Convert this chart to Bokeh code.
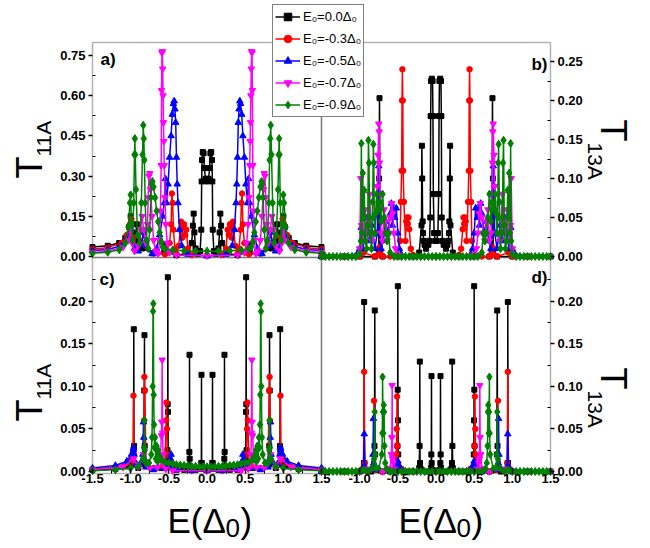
import math
from bokeh.plotting import figure
from bokeh.models import (Range1d, LinearAxis, FixedTicker, NumeralTickFormatter,
                          BoxAnnotation, Label, Legend, LegendItem)
from bokeh.embed import file_html
from bokeh.resources import INLINE

# ---------------- data ----------------
SERIES_LABELS = ["E₀=0.0Δ₀", "E₀=-0.3Δ₀", "E₀=-0.5Δ₀", "E₀=-0.7Δ₀", "E₀=-0.9Δ₀"]

# Panel a) T11A
a_black_E = [-1.5, -1.3, -1.15, -1.07, -1.02, -1.0, -0.98, -0.95, -0.92, -0.9, -0.85, -0.7, -0.56, -0.54, -0.52, -0.4, -0.25, -0.2, -0.185, -0.175, -0.165, -0.15, -0.12, -0.09, -0.075, -0.07, -0.065, -0.055, -0.045, -0.035, -0.02, 0.0, 0.02, 0.035, 0.045, 0.055, 0.065, 0.07, 0.075, 0.09, 0.12, 0.15, 0.165, 0.175, 0.185, 0.2, 0.25, 0.4, 0.52, 0.54, 0.56, 0.7, 0.85, 0.9, 0.92, 0.95, 0.98, 1.0, 1.02, 1.07, 1.15, 1.3, 1.5]
a_black_T = [0.035, 0.04, 0.05, 0.07, 0.11, 0.15, 0.09, 0.05, 0.12, 0.06, 0.03, 0.012, 0.015, 0.045, 0.015, 0.005, 0.012, 0.05, 0.115, 0.16, 0.09, 0.03, 0.01, 0.02, 0.1, 0.28, 0.36, 0.39, 0.385, 0.33, 0.29, 0.28, 0.29, 0.33, 0.385, 0.39, 0.36, 0.28, 0.1, 0.02, 0.01, 0.03, 0.09, 0.16, 0.115, 0.05, 0.012, 0.005, 0.015, 0.045, 0.015, 0.012, 0.03, 0.06, 0.12, 0.05, 0.09, 0.15, 0.11, 0.07, 0.05, 0.04, 0.035]
a_red_E = [-1.5, -1.3, -1.12, -1.05, -1.01, -0.99, -0.97, -0.93, -0.86, -0.83, -0.8, -0.7, -0.55, -0.49, -0.47, -0.46, -0.45, -0.44, -0.42, -0.4, -0.37, -0.35, -0.34, -0.325, -0.31, -0.3, -0.285, -0.27, -0.25, -0.2, 0.0, 0.2, 0.25, 0.27, 0.285, 0.3, 0.31, 0.325, 0.34, 0.35, 0.37, 0.4, 0.42, 0.44, 0.45, 0.46, 0.47, 0.49, 0.55, 0.7, 0.8, 0.83, 0.86, 0.93, 0.97, 0.99, 1.01, 1.05, 1.12, 1.3, 1.5]
a_red_T = [0.028, 0.033, 0.05, 0.08, 0.12, 0.14, 0.07, 0.035, 0.05, 0.1, 0.04, 0.012, 0.008, 0.05, 0.12, 0.235, 0.2, 0.1, 0.03, 0.01, 0.04, 0.1, 0.13, 0.07, 0.11, 0.12, 0.08, 0.1, 0.03, 0.006, 0.003, 0.006, 0.03, 0.1, 0.08, 0.12, 0.11, 0.07, 0.13, 0.1, 0.04, 0.01, 0.03, 0.1, 0.2, 0.235, 0.12, 0.05, 0.008, 0.012, 0.04, 0.1, 0.05, 0.035, 0.07, 0.14, 0.12, 0.08, 0.05, 0.033, 0.028]
a_blue_E = [-1.5, -1.3, -1.12, -1.04, -1.0, -0.98, -0.95, -0.9, -0.85, -0.83, -0.8, -0.72, -0.66, -0.62, -0.58, -0.56, -0.545, -0.53, -0.51, -0.49, -0.47, -0.455, -0.44, -0.43, -0.42, -0.41, -0.4, -0.39, -0.38, -0.36, -0.33, -0.25, 0.0, 0.25, 0.33, 0.36, 0.38, 0.39, 0.4, 0.41, 0.42, 0.43, 0.44, 0.455, 0.47, 0.49, 0.51, 0.53, 0.545, 0.56, 0.58, 0.62, 0.66, 0.72, 0.8, 0.83, 0.85, 0.9, 0.95, 0.98, 1.0, 1.04, 1.12, 1.3, 1.5]
a_blue_T = [0.022, 0.026, 0.04, 0.07, 0.1, 0.06, 0.03, 0.02, 0.05, 0.09, 0.04, 0.01, 0.03, 0.08, 0.15, 0.2, 0.29, 0.2, 0.27, 0.37, 0.45, 0.53, 0.57, 0.58, 0.55, 0.5, 0.37, 0.27, 0.2, 0.1, 0.04, 0.008, 0.002, 0.008, 0.04, 0.1, 0.2, 0.27, 0.37, 0.5, 0.55, 0.58, 0.57, 0.53, 0.45, 0.37, 0.27, 0.2, 0.29, 0.2, 0.15, 0.08, 0.03, 0.01, 0.04, 0.09, 0.05, 0.02, 0.03, 0.06, 0.1, 0.07, 0.04, 0.026, 0.022]
a_magenta_E = [-1.5, -1.3, -1.1, -1.03, -1.0, -0.98, -0.95, -0.9, -0.87, -0.85, -0.83, -0.8, -0.78, -0.77, -0.76, -0.75, -0.74, -0.72, -0.7, -0.67, -0.64, -0.62, -0.61, -0.6, -0.595, -0.59, -0.585, -0.58, -0.575, -0.57, -0.565, -0.56, -0.55, -0.54, -0.52, -0.49, -0.4, 0.0, 0.4, 0.49, 0.52, 0.54, 0.55, 0.56, 0.565, 0.57, 0.575, 0.58, 0.585, 0.59, 0.595, 0.6, 0.61, 0.62, 0.64, 0.67, 0.7, 0.72, 0.74, 0.75, 0.76, 0.77, 0.78, 0.8, 0.83, 0.85, 0.87, 0.9, 0.95, 0.98, 1.0, 1.03, 1.1, 1.3, 1.5]
a_magenta_T = [0.015, 0.02, 0.035, 0.06, 0.1, 0.05, 0.02, 0.04, 0.1, 0.15, 0.1, 0.05, 0.12, 0.22, 0.3, 0.31, 0.25, 0.15, 0.06, 0.02, 0.01, 0.06, 0.17, 0.34, 0.62, 0.76, 0.765, 0.7, 0.6, 0.5, 0.43, 0.34, 0.22, 0.12, 0.05, 0.015, 0.005, 0.003, 0.005, 0.015, 0.05, 0.12, 0.22, 0.34, 0.43, 0.5, 0.6, 0.7, 0.765, 0.76, 0.62, 0.34, 0.17, 0.06, 0.01, 0.02, 0.06, 0.15, 0.25, 0.31, 0.3, 0.22, 0.12, 0.05, 0.1, 0.15, 0.1, 0.04, 0.02, 0.05, 0.1, 0.06, 0.035, 0.02, 0.015]
a_green_E = [-1.5, -1.3, -1.15, -1.07, -1.03, -1.01, -1.0, -0.99, -0.975, -0.96, -0.95, -0.945, -0.94, -0.93, -0.91, -0.88, -0.86, -0.845, -0.835, -0.828, -0.82, -0.81, -0.79, -0.77, -0.75, -0.735, -0.725, -0.715, -0.7, -0.68, -0.66, -0.64, -0.62, -0.6, -0.58, -0.55, -0.45, -0.3, -0.15, 0.0, 0.15, 0.3, 0.45, 0.55, 0.58, 0.6, 0.62, 0.64, 0.66, 0.68, 0.7, 0.715, 0.725, 0.735, 0.75, 0.77, 0.79, 0.81, 0.82, 0.828, 0.835, 0.845, 0.86, 0.88, 0.91, 0.93, 0.94, 0.945, 0.95, 0.96, 0.975, 0.99, 1.0, 1.01, 1.03, 1.07, 1.15, 1.3, 1.5]
a_green_T = [0.012, 0.016, 0.025, 0.05, 0.11, 0.2, 0.23, 0.12, 0.06, 0.2, 0.38, 0.44, 0.38, 0.25, 0.08, 0.05, 0.2, 0.38, 0.49, 0.44, 0.36, 0.2, 0.06, 0.03, 0.1, 0.22, 0.27, 0.28, 0.26, 0.22, 0.17, 0.13, 0.09, 0.055, 0.035, 0.028, 0.024, 0.021, 0.02, 0.02, 0.02, 0.021, 0.024, 0.028, 0.035, 0.055, 0.09, 0.13, 0.17, 0.22, 0.26, 0.28, 0.27, 0.22, 0.1, 0.03, 0.06, 0.2, 0.36, 0.44, 0.49, 0.38, 0.2, 0.05, 0.08, 0.25, 0.38, 0.44, 0.38, 0.2, 0.06, 0.12, 0.23, 0.2, 0.11, 0.05, 0.025, 0.016, 0.012]

# Panel b) T13A
b_black_E = [-1.5, -1.2, -1.0, -0.8, -0.75, -0.745, -0.74, -0.735, -0.73, -0.7, -0.5, -0.3, -0.22, -0.19, -0.185, -0.18, -0.175, -0.17, -0.16, -0.15, -0.13, -0.1, -0.085, -0.075, -0.07, -0.065, -0.055, -0.045, -0.04, -0.035, -0.025, -0.01, 0.0, 0.01, 0.025, 0.035, 0.04, 0.045, 0.055, 0.065, 0.07, 0.075, 0.085, 0.1, 0.13, 0.15, 0.16, 0.17, 0.175, 0.18, 0.185, 0.19, 0.22, 0.3, 0.5, 0.7, 0.73, 0.735, 0.74, 0.745, 0.75, 0.8, 1.0, 1.2, 1.5]
b_black_T = [0.0, 0.0, 0.0, 0.0, 0.005, 0.1, 0.203, 0.08, 0.005, 0.0, 0.0, 0.0, 0.005, 0.04, 0.142, 0.1, 0.045, 0.03, 0.02, 0.015, 0.01, 0.015, 0.02, 0.05, 0.18, 0.225, 0.228, 0.225, 0.18, 0.08, 0.03, 0.02, 0.02, 0.02, 0.03, 0.08, 0.18, 0.225, 0.228, 0.225, 0.18, 0.05, 0.02, 0.015, 0.01, 0.015, 0.02, 0.03, 0.045, 0.1, 0.142, 0.04, 0.005, 0.0, 0.0, 0.0, 0.005, 0.08, 0.203, 0.1, 0.005, 0.0, 0.0, 0.0, 0.0]
b_red_E = [-1.5, -1.2, -1.0, -0.95, -0.8, -0.75, -0.74, -0.73, -0.7, -0.6, -0.5, -0.47, -0.46, -0.45, -0.445, -0.44, -0.435, -0.43, -0.42, -0.4, -0.39, -0.38, -0.37, -0.36, -0.35, -0.33, -0.3, -0.2, 0.0, 0.2, 0.3, 0.33, 0.35, 0.36, 0.37, 0.38, 0.39, 0.4, 0.42, 0.43, 0.435, 0.44, 0.445, 0.45, 0.46, 0.47, 0.5, 0.6, 0.7, 0.73, 0.74, 0.75, 0.8, 0.95, 1.0, 1.2, 1.5]
b_red_T = [0.0, 0.0, 0.0, 0.005, 0.0, 0.003, 0.012, 0.003, 0.0, 0.0, 0.002, 0.02, 0.07, 0.11, 0.2, 0.24, 0.2, 0.11, 0.07, 0.02, 0.045, 0.05, 0.042, 0.05, 0.035, 0.01, 0.002, 0.0, 0.0, 0.0, 0.002, 0.01, 0.035, 0.05, 0.042, 0.05, 0.045, 0.02, 0.07, 0.11, 0.2, 0.24, 0.2, 0.11, 0.07, 0.02, 0.002, 0.0, 0.0, 0.003, 0.012, 0.003, 0.0, 0.005, 0.0, 0.0, 0.0]
b_blue_E = [-1.5, -1.1, -1.0, -0.98, -0.96, -0.93, -0.9, -0.87, -0.84, -0.8, -0.77, -0.755, -0.75, -0.745, -0.735, -0.72, -0.69, -0.66, -0.63, -0.6, -0.585, -0.57, -0.555, -0.54, -0.52, -0.5, -0.48, -0.45, -0.3, 0.0, 0.3, 0.45, 0.48, 0.5, 0.52, 0.54, 0.555, 0.57, 0.585, 0.6, 0.63, 0.66, 0.69, 0.72, 0.735, 0.745, 0.75, 0.755, 0.77, 0.8, 0.84, 0.87, 0.9, 0.93, 0.96, 0.98, 1.0, 1.1, 1.5]
b_blue_T = [0.0, 0.0, 0.01, 0.037, 0.01, 0.03, 0.05, 0.02, 0.04, 0.01, 0.03, 0.08, 0.116, 0.08, 0.03, 0.01, 0.02, 0.045, 0.03, 0.055, 0.068, 0.04, 0.06, 0.05, 0.062, 0.03, 0.01, 0.002, 0.0, 0.0, 0.0, 0.002, 0.01, 0.03, 0.062, 0.05, 0.06, 0.04, 0.068, 0.055, 0.03, 0.045, 0.02, 0.01, 0.03, 0.08, 0.116, 0.08, 0.03, 0.01, 0.04, 0.02, 0.05, 0.03, 0.01, 0.037, 0.01, 0.0, 0.0]
b_magenta_E = [-1.5, -1.05, -1.0, -0.985, -0.975, -0.96, -0.93, -0.9, -0.87, -0.84, -0.8, -0.77, -0.76, -0.75, -0.745, -0.74, -0.73, -0.72, -0.7, -0.68, -0.66, -0.64, -0.62, -0.6, -0.58, -0.565, -0.55, -0.53, -0.5, -0.45, 0.0, 0.45, 0.5, 0.53, 0.55, 0.565, 0.58, 0.6, 0.62, 0.64, 0.66, 0.68, 0.7, 0.72, 0.73, 0.74, 0.745, 0.75, 0.76, 0.77, 0.8, 0.84, 0.87, 0.9, 0.93, 0.96, 0.975, 0.985, 1.0, 1.05, 1.5]
b_magenta_T = [0.0, 0.0, 0.01, 0.1, 0.04, 0.02, 0.06, 0.03, 0.08, 0.02, 0.03, 0.09, 0.13, 0.17, 0.16, 0.12, 0.07, 0.03, 0.02, 0.06, 0.045, 0.02, 0.03, 0.05, 0.068, 0.055, 0.03, 0.01, 0.002, 0.0, 0.0, 0.0, 0.002, 0.01, 0.03, 0.055, 0.068, 0.05, 0.03, 0.02, 0.045, 0.06, 0.02, 0.03, 0.07, 0.12, 0.16, 0.17, 0.13, 0.09, 0.03, 0.02, 0.08, 0.03, 0.06, 0.02, 0.04, 0.1, 0.01, 0.0, 0.0]
b_green_E = [-1.5, -1.45, -1.4, -1.35, -1.3, -1.25, -1.2, -1.15, -1.1, -1.05, -1.0, -0.985, -0.978, -0.97, -0.96, -0.95, -0.94, -0.925, -0.91, -0.895, -0.885, -0.878, -0.87, -0.86, -0.845, -0.83, -0.82, -0.815, -0.808, -0.8, -0.79, -0.775, -0.76, -0.74, -0.72, -0.7, -0.68, -0.66, -0.64, -0.62, -0.6, -0.55, -0.5, -0.45, -0.4, -0.35, -0.3, -0.25, -0.2, -0.15, -0.1, -0.05, 0.0, 0.05, 0.1, 0.15, 0.2, 0.25, 0.3, 0.35, 0.4, 0.45, 0.5, 0.55, 0.6, 0.62, 0.64, 0.66, 0.68, 0.7, 0.72, 0.74, 0.76, 0.775, 0.79, 0.8, 0.808, 0.815, 0.82, 0.83, 0.845, 0.86, 0.87, 0.878, 0.885, 0.895, 0.91, 0.925, 0.94, 0.95, 0.96, 0.97, 0.978, 0.985, 1.0, 1.05, 1.1, 1.15, 1.2, 1.25, 1.3, 1.35, 1.4, 1.45, 1.5]
b_green_T = [0.0, 0.0, 0.0, 0.0, 0.0, 0.0, 0.0, 0.0, 0.0, 0.0, 0.003, 0.02, 0.145, 0.03, 0.107, 0.05, 0.085, 0.02, 0.01, 0.04, 0.149, 0.12, 0.05, 0.03, 0.01, 0.07, 0.144, 0.12, 0.05, 0.03, 0.055, 0.08, 0.06, 0.07, 0.045, 0.08, 0.05, 0.03, 0.02, 0.03, 0.005, 0.0, 0.0, 0.0, 0.0, 0.0, 0.0, 0.0, 0.0, 0.0, 0.0, 0.0, 0.0, 0.0, 0.0, 0.0, 0.0, 0.0, 0.0, 0.0, 0.0, 0.0, 0.0, 0.0, 0.005, 0.03, 0.02, 0.03, 0.05, 0.08, 0.045, 0.07, 0.06, 0.08, 0.055, 0.03, 0.05, 0.12, 0.144, 0.07, 0.01, 0.03, 0.05, 0.12, 0.149, 0.04, 0.01, 0.02, 0.085, 0.05, 0.107, 0.03, 0.145, 0.02, 0.003, 0.0, 0.0, 0.0, 0.0, 0.0, 0.0, 0.0, 0.0, 0.0, 0.0]

# Panel c) T11A
c_black_E = [-1.5, -1.2, -1.05, -0.97, -0.962, -0.959, -0.956, -0.95, -0.9, -0.83, -0.822, -0.819, -0.816, -0.81, -0.7, -0.6, -0.53, -0.518, -0.515, -0.513, -0.511, -0.508, -0.5, -0.4, -0.3, -0.235, -0.231, -0.229, -0.227, -0.22, -0.15, -0.08, -0.074, -0.072, -0.07, -0.06, 0.0, 0.06, 0.07, 0.072, 0.074, 0.08, 0.15, 0.22, 0.227, 0.229, 0.231, 0.235, 0.3, 0.4, 0.5, 0.508, 0.511, 0.513, 0.515, 0.518, 0.53, 0.6, 0.7, 0.81, 0.816, 0.819, 0.822, 0.83, 0.9, 0.95, 0.956, 0.959, 0.962, 0.97, 1.05, 1.2, 1.5]
c_black_T = [0.002, 0.003, 0.006, 0.01, 0.026, 0.167, 0.03, 0.01, 0.004, 0.01, 0.095, 0.16, 0.03, 0.008, 0.003, 0.004, 0.01, 0.025, 0.079, 0.228, 0.07, 0.02, 0.006, 0.002, 0.002, 0.006, 0.023, 0.137, 0.015, 0.004, 0.002, 0.003, 0.01, 0.1135, 0.01, 0.003, 0.002, 0.003, 0.01, 0.1135, 0.01, 0.003, 0.002, 0.004, 0.015, 0.137, 0.023, 0.006, 0.002, 0.002, 0.006, 0.02, 0.07, 0.228, 0.079, 0.025, 0.01, 0.004, 0.003, 0.008, 0.03, 0.16, 0.095, 0.01, 0.004, 0.01, 0.03, 0.167, 0.026, 0.01, 0.006, 0.003, 0.002]
c_red_E = [-1.5, -1.2, -1.05, -0.98, -0.968, -0.963, -0.958, -0.95, -0.9, -0.84, -0.825, -0.82, -0.815, -0.8, -0.7, -0.6, -0.55, -0.535, -0.53, -0.525, -0.515, -0.5, -0.4, -0.2, 0.0, 0.2, 0.4, 0.5, 0.515, 0.525, 0.53, 0.535, 0.55, 0.6, 0.7, 0.8, 0.815, 0.82, 0.825, 0.84, 0.9, 0.95, 0.958, 0.963, 0.968, 0.98, 1.05, 1.2, 1.5]
c_red_T = [0.003, 0.005, 0.01, 0.015, 0.024, 0.089, 0.02, 0.01, 0.006, 0.012, 0.06, 0.111, 0.095, 0.01, 0.004, 0.005, 0.01, 0.06, 0.081, 0.05, 0.02, 0.006, 0.002, 0.001, 0.001, 0.001, 0.002, 0.006, 0.02, 0.05, 0.081, 0.06, 0.01, 0.005, 0.004, 0.01, 0.095, 0.111, 0.06, 0.012, 0.006, 0.01, 0.02, 0.089, 0.024, 0.015, 0.01, 0.005, 0.003]
c_blue_E = [-1.5, -1.2, -1.05, -0.99, -0.965, -0.96, -0.955, -0.93, -0.87, -0.84, -0.832, -0.828, -0.82, -0.8, -0.7, -0.55, -0.5, -0.48, -0.47, -0.46, -0.44, -0.4, -0.2, 0.0, 0.2, 0.4, 0.44, 0.46, 0.47, 0.48, 0.5, 0.55, 0.7, 0.8, 0.82, 0.828, 0.832, 0.84, 0.87, 0.93, 0.955, 0.96, 0.965, 0.99, 1.05, 1.2, 1.5]
c_blue_T = [0.004, 0.007, 0.012, 0.02, 0.025, 0.028, 0.02, 0.008, 0.01, 0.02, 0.058, 0.04, 0.015, 0.005, 0.002, 0.004, 0.008, 0.015, 0.02, 0.012, 0.005, 0.002, 0.001, 0.001, 0.001, 0.002, 0.005, 0.012, 0.02, 0.015, 0.008, 0.004, 0.002, 0.005, 0.015, 0.04, 0.058, 0.02, 0.01, 0.008, 0.02, 0.028, 0.025, 0.02, 0.012, 0.007, 0.004]
c_magenta_E = [-1.5, -1.1, -0.96, -0.9, -0.83, -0.75, -0.65, -0.61, -0.598, -0.592, -0.587, -0.582, -0.576, -0.565, -0.54, -0.45, 0.0, 0.45, 0.54, 0.565, 0.576, 0.582, 0.587, 0.592, 0.598, 0.61, 0.65, 0.75, 0.83, 0.9, 0.96, 1.1, 1.5]
c_magenta_T = [0.002, 0.005, 0.015, 0.005, 0.02, 0.004, 0.005, 0.015, 0.042, 0.058, 0.131, 0.045, 0.02, 0.008, 0.003, 0.001, 0.001, 0.001, 0.003, 0.008, 0.02, 0.045, 0.131, 0.058, 0.042, 0.015, 0.005, 0.004, 0.02, 0.005, 0.015, 0.005, 0.002]
c_green_E = [-1.5, -1.2, -1.0, -0.9, -0.84, -0.825, -0.82, -0.815, -0.8, -0.76, -0.73, -0.72, -0.712, -0.707, -0.703, -0.698, -0.693, -0.688, -0.68, -0.67, -0.66, -0.65, -0.64, -0.62, -0.6, -0.55, -0.5, -0.45, -0.4, -0.35, -0.3, -0.25, -0.2, -0.15, -0.1, -0.05, 0.0, 0.05, 0.1, 0.15, 0.2, 0.25, 0.3, 0.35, 0.4, 0.45, 0.5, 0.55, 0.6, 0.62, 0.64, 0.65, 0.66, 0.67, 0.68, 0.688, 0.693, 0.698, 0.703, 0.707, 0.712, 0.72, 0.73, 0.76, 0.8, 0.815, 0.82, 0.825, 0.84, 0.9, 1.0, 1.2, 1.5]
c_green_T = [0.001, 0.002, 0.004, 0.006, 0.015, 0.028, 0.06, 0.025, 0.01, 0.01, 0.02, 0.04, 0.1, 0.188, 0.197, 0.09, 0.055, 0.028, 0.04, 0.015, 0.03, 0.012, 0.025, 0.018, 0.014, 0.011, 0.01, 0.009, 0.008, 0.0075, 0.007, 0.0065, 0.006, 0.006, 0.0055, 0.0055, 0.0055, 0.0055, 0.0055, 0.006, 0.006, 0.0065, 0.007, 0.0075, 0.008, 0.009, 0.01, 0.011, 0.014, 0.018, 0.025, 0.012, 0.03, 0.015, 0.04, 0.028, 0.055, 0.09, 0.197, 0.188, 0.1, 0.04, 0.02, 0.01, 0.01, 0.025, 0.06, 0.028, 0.015, 0.006, 0.004, 0.002, 0.001]

# Panel d) T13A
d_black_E = [-1.5, -1.2, -1.0, -0.95, -0.944, -0.941, -0.938, -0.93, -0.85, -0.806, -0.802, -0.798, -0.79, -0.7, -0.6, -0.51, -0.505, -0.502, -0.5, -0.498, -0.495, -0.49, -0.4, -0.3, -0.22, -0.215, -0.212, -0.209, -0.2, -0.12, -0.065, -0.061, -0.059, -0.057, -0.05, 0.0, 0.05, 0.057, 0.059, 0.061, 0.065, 0.12, 0.2, 0.209, 0.212, 0.215, 0.22, 0.3, 0.4, 0.49, 0.495, 0.498, 0.5, 0.502, 0.505, 0.51, 0.6, 0.7, 0.79, 0.798, 0.802, 0.806, 0.85, 0.93, 0.938, 0.941, 0.944, 0.95, 1.0, 1.2, 1.5]
d_black_T = [0.0, 0.0, 0.0, 0.002, 0.01, 0.199, 0.01, 0.002, 0.0, 0.03, 0.189, 0.02, 0.002, 0.0, 0.0, 0.005, 0.03, 0.096, 0.2175, 0.06, 0.02, 0.005, 0.0, 0.0, 0.004, 0.03, 0.129, 0.01, 0.003, 0.0, 0.004, 0.02, 0.112, 0.01, 0.002, 0.0, 0.002, 0.01, 0.112, 0.02, 0.004, 0.0, 0.003, 0.01, 0.129, 0.03, 0.004, 0.0, 0.0, 0.005, 0.02, 0.06, 0.2175, 0.096, 0.03, 0.005, 0.0, 0.0, 0.002, 0.02, 0.189, 0.03, 0.0, 0.002, 0.01, 0.199, 0.01, 0.002, 0.0, 0.0, 0.0]
d_red_E = [-1.5, -1.0, -0.95, -0.941, -0.935, -0.9, -0.82, -0.812, -0.808, -0.8, -0.7, -0.55, -0.52, -0.515, -0.51, -0.505, -0.5, -0.45, -0.3, 0.0, 0.3, 0.45, 0.5, 0.505, 0.51, 0.515, 0.52, 0.55, 0.7, 0.8, 0.808, 0.812, 0.82, 0.9, 0.935, 0.941, 0.95, 1.0, 1.5]
d_red_T = [0.0, 0.0, 0.005, 0.117, 0.01, 0.0, 0.005, 0.083, 0.02, 0.002, 0.0, 0.002, 0.02, 0.05, 0.088, 0.03, 0.01, 0.003, 0.0, 0.0, 0.0, 0.003, 0.01, 0.03, 0.088, 0.05, 0.02, 0.002, 0.0, 0.002, 0.02, 0.083, 0.005, 0.0, 0.01, 0.117, 0.005, 0.0, 0.0]
d_blue_E = [-1.5, -1.0, -0.95, -0.94, -0.93, -0.85, -0.825, -0.82, -0.815, -0.8, -0.6, -0.52, -0.5, -0.48, -0.45, -0.3, 0.0, 0.3, 0.45, 0.48, 0.5, 0.52, 0.6, 0.8, 0.815, 0.82, 0.825, 0.85, 0.93, 0.94, 0.95, 1.0, 1.5]
d_blue_T = [0.0, 0.0, 0.005, 0.044, 0.005, 0.002, 0.02, 0.062, 0.01, 0.002, 0.0, 0.005, 0.012, 0.006, 0.002, 0.0, 0.0, 0.0, 0.002, 0.006, 0.012, 0.005, 0.0, 0.002, 0.01, 0.062, 0.02, 0.002, 0.005, 0.044, 0.005, 0.0, 0.0]
d_magenta_E = [-1.5, -1.0, -0.9, -0.7, -0.6, -0.585, -0.578, -0.574, -0.57, -0.56, -0.54, -0.5, 0.0, 0.5, 0.54, 0.56, 0.57, 0.574, 0.578, 0.585, 0.6, 0.7, 0.9, 1.0, 1.5]
d_magenta_T = [0.0, 0.0, 0.003, 0.0, 0.004, 0.02, 0.04, 0.101, 0.015, 0.01, 0.003, 0.0, 0.0, 0.0, 0.003, 0.01, 0.015, 0.101, 0.04, 0.02, 0.004, 0.0, 0.003, 0.0, 0.0]
d_green_E = [-1.5, -1.45, -1.4, -1.35, -1.3, -1.25, -1.2, -1.15, -1.1, -1.05, -1.0, -0.95, -0.9, -0.85, -0.81, -0.803, -0.797, -0.79, -0.75, -0.71, -0.703, -0.7, -0.695, -0.69, -0.685, -0.68, -0.675, -0.665, -0.65, -0.6, -0.55, -0.5, -0.45, -0.4, -0.35, -0.3, -0.25, -0.2, -0.15, -0.1, -0.05, 0.0, 0.05, 0.1, 0.15, 0.2, 0.25, 0.3, 0.35, 0.4, 0.45, 0.5, 0.55, 0.6, 0.65, 0.665, 0.675, 0.68, 0.685, 0.69, 0.695, 0.7, 0.703, 0.71, 0.75, 0.79, 0.797, 0.803, 0.81, 0.85, 0.9, 0.95, 1.0, 1.05, 1.1, 1.15, 1.2, 1.25, 1.3, 1.35, 1.4, 1.45, 1.5]
d_green_T = [0.0, 0.0, 0.0, 0.0, 0.0, 0.0, 0.0, 0.0, 0.0, 0.0, 0.0, 0.002, 0.0, 0.003, 0.015, 0.07, 0.02, 0.005, 0.003, 0.02, 0.045, 0.111, 0.07, 0.045, 0.078, 0.07, 0.03, 0.01, 0.003, 0.0, 0.0, 0.0, 0.0, 0.0, 0.0, 0.0, 0.0, 0.0, 0.0, 0.0, 0.0, 0.0, 0.0, 0.0, 0.0, 0.0, 0.0, 0.0, 0.0, 0.0, 0.0, 0.0, 0.0, 0.0, 0.003, 0.01, 0.03, 0.07, 0.078, 0.045, 0.07, 0.111, 0.045, 0.02, 0.003, 0.005, 0.02, 0.07, 0.015, 0.003, 0.0, 0.002, 0.0, 0.0, 0.0, 0.0, 0.0, 0.0, 0.0, 0.0, 0.0, 0.0, 0.0]

# axis ticks
E_TICKS_C = [-1.5, -1.0, -0.5, 0.0, 0.5, 1.0, 1.5]
E_TICKS_D = [-1.0, -0.5, 0.0, 0.5, 1.0, 1.5]
E_MINOR = [-1.25, -0.75, -0.25, 0.25, 0.75, 1.25]
A_TICKS = [0.0, 0.15, 0.30, 0.45, 0.60, 0.75]
A_MINOR = [0.075, 0.225, 0.375, 0.525, 0.675]
B_TICKS = [0.0, 0.05, 0.10, 0.15, 0.20, 0.25]
B_MINOR = [0.025, 0.075, 0.125, 0.175, 0.225]
CD_TICKS = [0.0, 0.05, 0.10, 0.15, 0.20]
CD_MINOR = [0.025, 0.075, 0.125, 0.175, 0.225]

# ---------------- layout (pixels) ----------------
W, H = 648, 546
PX_PER_E = 76.33
# panel: (pixel x of E=-1.5, pixel y of T=0, pixels per unit of T)
GEOM = {"a": (92, 256, 268.0), "b": (321, 256, 780.0),
        "c": (92, 471, 852.0), "d": (321, 471, 852.0)}
ROW_TOP, ROW_MID, ROW_BOT = 42, 257, 473

def x_range_for(name):
    x0 = GEOM[name][0]
    start = -1.5 - x0 / PX_PER_E
    return Range1d(start, start + W / PX_PER_E)

def y_range_for(name):
    _, z, ppu = GEOM[name]
    return Range1d(-(H - z) / ppu, z / ppu)

def yv(name, py):
    _, z, ppu = GEOM[name]
    return (z - py) / ppu

FONT = "Liberation Sans"
COLORS = ["#000000", "#FF0000", "#0000FF", "#FF00FF", "#008000"]
MARKERS = ["square", "circle", "triangle", "inverted_triangle", "diamond"]
SIZES = [5, 5.5, 6.5, 6.5, 8]

p = figure(width=W, height=H, x_range=x_range_for("a"), y_range=y_range_for("a"),
           x_axis_location=None, y_axis_location=None,
           output_backend="svg", toolbar_location=None,
           min_border=0, min_border_left=0, min_border_right=0,
           min_border_top=0, min_border_bottom=0)
p.extra_x_ranges = {n: x_range_for(n) for n in ("b", "c", "d")}
p.extra_y_ranges = {n: y_range_for(n) for n in ("b", "c", "d")}
p.xgrid.visible = False
p.ygrid.visible = False
p.outline_line_color = None
p.background_fill_color = "white"
p.border_fill_color = "white"

def rn(name):
    return "default" if name == "a" else name

def style_axis(ax, horizontal):
    ax.major_label_text_font = FONT
    ax.major_label_text_font_style = "bold"
    ax.major_label_text_font_size = "13px"
    ax.major_label_text_color = "black"
    ax.axis_line_color = None
    ax.major_tick_line_color = "black"
    ax.major_tick_line_width = 1.5
    ax.minor_tick_line_color = "black"
    ax.minor_tick_line_width = 1
    if horizontal:
        ax.major_tick_out = 0
        ax.major_tick_in = 5
        ax.minor_tick_out = 0
        ax.minor_tick_in = 3
        ax.major_label_standoff = 0
    else:
        ax.major_tick_out = 4
        ax.major_tick_in = 0
        ax.minor_tick_out = 0
        ax.minor_tick_in = 3
        ax.major_label_standoff = 3

def add_axis(name, side, loc, ticks, minor, fmt):
    ax = LinearAxis(x_range_name=rn(name), y_range_name=rn(name), fixed_location=loc,
                    ticker=FixedTicker(ticks=ticks, minor_ticks=minor),
                    formatter=NumeralTickFormatter(format=fmt))
    style_axis(ax, side in ("below", "above"))
    p.add_layout(ax, side)

# panel frames
for name, top_px, bot_px in (("a", ROW_TOP, ROW_MID), ("b", ROW_TOP, ROW_MID),
                             ("c", ROW_MID, ROW_BOT), ("d", ROW_MID, ROW_BOT)):
    p.add_layout(BoxAnnotation(left=-1.5, right=1.5, bottom=yv(name, bot_px), top=yv(name, top_px),
                               x_range_name=rn(name), y_range_name=rn(name),
                               fill_alpha=0, line_color="black", line_width=1.5, level="underlay"))

add_axis("a", "left", -1.5, A_TICKS, A_MINOR, "0.00")
add_axis("b", "right", 1.5, B_TICKS, B_MINOR, "0.00")
add_axis("c", "left", -1.5, CD_TICKS, CD_MINOR, "0.00")
add_axis("d", "right", 1.5, CD_TICKS, CD_MINOR, "0.00")
add_axis("c", "below", yv("c", ROW_BOT), E_TICKS_C, E_MINOR, "0.0")
add_axis("d", "below", yv("d", ROW_BOT), E_TICKS_D, E_MINOR, "0.0")

def add_series(name, xs, ys, i):
    kw = dict(x_range_name=rn(name), y_range_name=rn(name))
    l = p.line(xs, ys, line_color=COLORS[i], line_width=1.5, **kw)
    s = p.scatter(xs, ys, marker=MARKERS[i], size=SIZES[i], fill_color=COLORS[i],
                  line_color=COLORS[i], **kw)
    return [l, s]

panel_data = {
    "a": [(a_black_E, a_black_T), (a_red_E, a_red_T), (a_blue_E, a_blue_T),
          (a_magenta_E, a_magenta_T), (a_green_E, a_green_T)],
    "b": [(b_black_E, b_black_T), (b_red_E, b_red_T), (b_blue_E, b_blue_T),
          (b_magenta_E, b_magenta_T), (b_green_E, b_green_T)],
    "c": [(c_black_E, c_black_T), (c_red_E, c_red_T), (c_blue_E, c_blue_T),
          (c_magenta_E, c_magenta_T), (c_green_E, c_green_T)],
    "d": [(d_black_E, d_black_T), (d_red_E, d_red_T), (d_blue_E, d_blue_T),
          (d_magenta_E, d_magenta_T), (d_green_E, d_green_T)],
}
legend_renderers = None
for name in ("a", "b", "c", "d"):
    rs = [add_series(name, xs, ys, i) for i, (xs, ys) in enumerate(panel_data[name])]
    if name == "a":
        legend_renderers = rs

legend = Legend(items=[LegendItem(label=SERIES_LABELS[i], renderers=legend_renderers[i]) for i in range(5)],
                location=(272, H - 117), orientation="vertical",
                border_line_color="black", border_line_width=1.5,
                background_fill_color="white", background_fill_alpha=1.0,
                label_text_font=FONT, label_text_font_size="13px", label_text_color="black",
                glyph_width=25, glyph_height=19, label_height=19, label_standoff=3,
                spacing=3, padding=2, margin=0)
p.add_layout(legend)

def add_text(name, text, x, py_anchor, xo, yo, size, bold=False, angle=0.0, align="left"):
    p.add_layout(Label(x=x, y=yv(name, py_anchor), x_range_name=rn(name), y_range_name=rn(name),
                       x_offset=xo, y_offset=yo, text=text, angle=angle,
                       text_font=FONT, text_font_size=size,
                       text_font_style="bold" if bold else "normal",
                       text_color="black", text_align=align, text_baseline="top"))

# panel tags
add_text("a", "a)", -1.5, ROW_TOP, 8, -7, "17px", bold=True)
add_text("b", "b)", 1.5, ROW_TOP, -3, -12, "17px", bold=True, align="right")
add_text("c", "c)", -1.5, ROW_MID, 7, -12, "17px", bold=True)
add_text("d", "d)", 1.5, ROW_MID, -3, -10, "17px", bold=True, align="right")

# y-axis titles: T with subscript
add_text("a", "T", -1.5, ROW_MID, -84, 79, "36px", angle=math.pi / 2)
add_text("a", "11A", -1.5, ROW_MID, -61, 101, "21px", angle=math.pi / 2)
add_text("b", "T", 1.5, ROW_MID, 84, 138, "36px", angle=-math.pi / 2)
add_text("b", "13A", 1.5, ROW_MID, 57, 115, "21px", angle=-math.pi / 2)
add_text("c", "T", -1.5, ROW_BOT, -84, 52, "36px", angle=math.pi / 2)
add_text("c", "11A", -1.5, ROW_BOT, -61, 74, "21px", angle=math.pi / 2)
add_text("d", "T", 1.5, ROW_BOT, 84, 106, "36px", angle=-math.pi / 2)
add_text("d", "13A", 1.5, ROW_BOT, 57, 83, "21px", angle=-math.pi / 2)

# x-axis titles: E(Δ0)
for name, dx in (("c", 75), ("d", 77)):
    add_text(name, "E(Δ", -1.5, ROW_BOT, dx, -27, "35px")
    add_text(name, "0", -1.5, ROW_BOT, dx + 58, -45, "26px")
    add_text(name, ")", -1.5, ROW_BOT, dx + 73, -27, "35px")

open("out.html", "w").write(file_html(p, INLINE))
